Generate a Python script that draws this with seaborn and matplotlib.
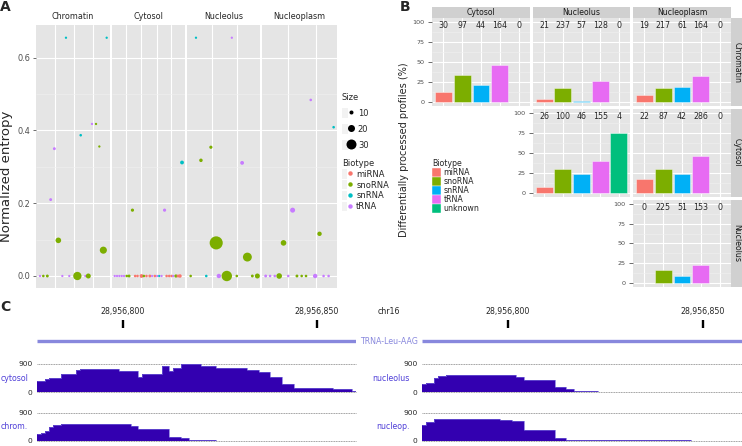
import numpy as np
import pandas as pd
import seaborn as sns
import matplotlib.pyplot as plt
from matplotlib.patches import Rectangle, Patch
from matplotlib.lines import Line2D
from matplotlib.legend_handler import HandlerTuple

# ---------------- Datos panel A (entropía normalizada por compartimento) ----------------
chromatin_x = [0.54, 0.99, 1.53, 3.56, 4.5, 5.59, 6.67, 7.07,
               4.05, 9.55, 2.48, 1.98, 3.02, 6.04, 7.57, 8.11, 8.56, 9.10]
chromatin_entropia = [0, 0, 0, 0, 0, 0, 0, 0,
                      0.655, 0.655, 0.350, 0.210, 0.098, 0.387, 0.418, 0.418, 0.356, 0.071]
chromatin_size = [3, 4, 5, 3, 3, 23, 3, 12,
                  3, 3, 5, 5, 14, 4, 3, 3, 3, 19]
chromatin_biotype = ["tRNA", "snoRNA", "snoRNA", "tRNA", "tRNA", "snoRNA", "tRNA", "snoRNA",
                     "snRNA", "snRNA", "tRNA", "tRNA", "snoRNA", "snRNA", "tRNA", "snoRNA", "snoRNA", "snoRNA"]

cytosol_x = [2.80, 7.20, 9.59,
             0.37, 0.69, 1.01, 1.33, 1.65, 2.02, 2.34, 3.17, 3.49, 4.04, 4.36, 4.72, 5.18,
             5.5, 5.87, 6.19, 6.47, 6.79, 7.48, 7.84, 8.17, 8.39, 8.76, 9.04, 9.31]
cytosol_entropia = [0.181, 0.181, 0.312] + [0] * 25
cytosol_size = [6, 6, 8,
                3, 3, 3, 3, 3, 4, 5, 4, 4, 8, 4, 4, 5,
                3, 4, 3, 3, 3, 4, 4, 4, 3, 6, 5, 7]
cytosol_biotype = ["snoRNA", "tRNA", "snRNA",
                   "tRNA", "tRNA", "tRNA", "tRNA", "tRNA", "snoRNA", "snoRNA", "miRNA", "miRNA",
                   "miRNA", "snoRNA", "miRNA", "miRNA", "tRNA", "miRNA", "tRNA", "snRNA", "tRNA",
                   "miRNA", "miRNA", "miRNA", "tRNA", "snoRNA", "miRNA", "miRNA"]

nucleolus_x = [1.23, 6.14, 3.27, 1.91, 7.55, 4.0, 8.27,
               0.5, 2.64, 4.36, 5.45, 6.82, 8.95, 9.64]
nucleolus_entropia = [0.655, 0.655, 0.354, 0.318, 0.311, 0.091, 0.052,
                      0, 0, 0, 0, 0, 0, 0]
nucleolus_size = [3, 3, 6, 7, 8, 39, 25,
                  4, 4, 10, 30, 4, 5, 12]
nucleolus_biotype = ["snRNA", "tRNA", "snoRNA", "snoRNA", "tRNA", "snoRNA", "snoRNA",
                     "snoRNA", "snRNA", "tRNA", "snoRNA", "snoRNA", "snoRNA", "snoRNA"]

nucleoplasm_x = [6.50, 9.55, 4.08, 2.87, 7.67,
                 0.49, 1.08, 1.70, 2.29, 3.50, 4.66, 5.29, 5.87, 7.09, 8.21, 8.88]
nucleoplasm_entropia = [0.484, 0.409, 0.181, 0.091, 0.116] + [0] * 11
nucleoplasm_size = [4, 4, 12, 14, 10,
                    5, 4, 4, 14, 4, 5, 4, 4, 10, 4, 4]
nucleoplasm_biotype = ["tRNA", "snRNA", "tRNA", "snoRNA", "snoRNA",
                       "tRNA", "tRNA", "tRNA", "snoRNA", "tRNA", "snoRNA", "snoRNA", "snoRNA",
                       "tRNA", "tRNA", "tRNA"]

# Líneas verticales de la rejilla en cada faceta (escala x libre)
rejilla_x = {"Chromatin": [2.57, 5.14, 7.66], "Cytosol": [1.97, 4.04, 6.1, 8.03],
             "Nucleolus": [3.41, 6.9], "Nucleoplasm": [3.5, 7.22]}

# ---------------- Datos panel B (perfiles diferencialmente procesados) ----------------
biotipos_b = ["miRNA", "snoRNA", "snRNA", "tRNA", "unknown"]
pct_chromatin_cytosol = [12.5, 34.2, 21.7, 46.7, 0]
pct_chromatin_nucleolus = [3.4, 17.5, 1.8, 26.3, 0]
pct_chromatin_nucleoplasm = [9.2, 17.5, 18.4, 32.1, 0]
pct_cytosol_nucleolus = [7.1, 29.6, 23.3, 39.2, 75]
pct_cytosol_nucleoplasm = [17.5, 30.4, 23.3, 46.3, 0]
pct_nucleolus_nucleoplasm = [0, 16.7, 9.2, 22.9, 0]
n_chromatin_cytosol = [30, 97, 44, 164, 0]
n_chromatin_nucleolus = [21, 237, 57, 128, 0]
n_chromatin_nucleoplasm = [19, 217, 61, 164, 0]
n_cytosol_nucleolus = [26, 100, 46, 155, 4]
n_cytosol_nucleoplasm = [22, 87, 42, 286, 0]
n_nucleolus_nucleoplasm = [0, 225, 51, 153, 0]

# ---------------- Datos panel C (cobertura sobre TRNA-Leu-AAG, chr16) ----------------
inicio_ventana = 28956778
fin_ventana = 28956860
marcas_c = [28956800, 28956850]
gen_inicio = 28956778
gen_fin = 28956860
bordes_cytosol = [0, 2, 3, 6, 10, 11, 21, 26, 27, 32, 34, 35, 37, 42, 46, 54, 57, 60, 63, 66, 76, 81, 82]
cob_cytosol = [360, 424, 466, 572, 709, 741, 678, 498, 582, 826, 688, 784, 900, 837, 774, 710, 657, 477,
               254, 148, 95, 42]
bordes_chrom = [0, 1, 2, 3, 4, 6, 24, 26, 34, 37, 39, 46]
cob_chrom = [212, 254, 307, 445, 498, 530, 477, 371, 127, 95, 21]
bordes_nucleolus = [0, 1, 3, 4, 6, 24, 26, 34, 37, 39, 45]
cob_nucleolus = [254, 307, 466, 519, 551, 477, 392, 180, 106, 42]
bordes_nucleop = [0, 1, 3, 20, 23, 26, 34, 37, 69]
cob_nucleop = [487, 593, 688, 667, 614, 349, 85, 25]

W, H = 742, 446


def caja(izq, arriba, der, abajo):
    # Convertimos una caja en píxeles a coordenadas de figura
    return [izq / W, 1 - abajo / H, (der - izq) / W, (abajo - arriba) / H]


def area_punto(v):
    # El diámetro crece linealmente con el tamaño (como en la leyenda)
    return (0.72 * (0.3 * v + 1.4)) ** 2


sns.set_style("darkgrid", {"axes.facecolor": "#E5E5E5", "grid.color": "white"})
plt.rcParams["font.family"] = ["DejaVu Sans"]

fig = plt.figure(figsize=(7.42, 4.46), dpi=100)

# ======================= Panel A =======================
colores_a = {"miRNA": "#F8766D", "snoRNA": "#7CAE00", "snRNA": "#00BFC4", "tRNA": "#C77CFF"}
datos_a = {
    "Chromatin": (chromatin_x, chromatin_entropia, chromatin_size, chromatin_biotype),
    "Cytosol": (cytosol_x, cytosol_entropia, cytosol_size, cytosol_biotype),
    "Nucleolus": (nucleolus_x, nucleolus_entropia, nucleolus_size, nucleolus_biotype),
    "Nucleoplasm": (nucleoplasm_x, nucleoplasm_entropia, nucleoplasm_size, nucleoplasm_biotype),
}
paneles_a = [(36, 110), (112, 185), (187, 260), (262, 337)]

for i, (comp, (xs, ent, tam, bio)) in enumerate(datos_a.items()):
    ax = fig.add_axes(caja(paneles_a[i][0], 25, paneles_a[i][1], 288))
    df = pd.DataFrame({"x": xs, "entropia": ent, "size": tam, "biotype": bio})
    tamanos = {v: area_punto(v) for v in df["size"].unique()}
    sns.scatterplot(data=df, x="x", y="entropia", hue="biotype", palette=colores_a,
                    size="size", sizes=tamanos, linewidth=0, legend=False, ax=ax, zorder=3)
    ax.set_xlim(0, 10)
    ax.set_ylim(-0.033, 0.69)
    ax.set_xticks(rejilla_x[comp])
    ax.set_xticklabels([])
    ax.set_yticks([0, 0.2, 0.4, 0.6])
    ax.set_yticks([0.1, 0.3, 0.5], minor=True)
    ax.grid(True, which="major", color="white", lw=0.8)
    ax.grid(True, which="minor", axis="y", color="#F0F0F0", lw=0.4)
    ax.tick_params(axis="x", length=0)
    ax.tick_params(axis="y", which="minor", length=0)
    if i == 0:
        ax.set_yticklabels(["0.0", "0.2", "0.4", "0.6"])
        ax.tick_params(axis="y", which="major", length=2, width=0.5, color="#333333",
                       labelsize=5.9, labelcolor="#4D4D4D", pad=1.8, left=True)
    else:
        ax.set_yticklabels([])
        ax.tick_params(axis="y", length=0)
    for s in ax.spines.values():
        s.set_visible(False)
    ax.set_xlabel("")
    ax.set_ylabel("")
    ax.set_title(comp, fontsize=5.8, pad=4.5)

fig.text(7 / W, 1 - 176 / H, "Normalized entropy", rotation=90, fontsize=9.5,
         ha="center", va="center")

# Leyendas del panel A
mano_tuple = {tuple: HandlerTuple(ndivide=None)}
h_size = [(Patch(fc="#F2F2F2", ec="none"),
           Line2D([], [], marker="o", ls="", color="black", mew=0, markersize=0.72 * (0.3 * v + 1)))
          for v in [10, 20, 30]]
fig.legend(h_size, ["10", "20", "30"], title="Size", handler_map=mano_tuple,
           loc="upper left", bbox_to_anchor=(342 / W, 1 - 93 / H), frameon=False,
           fontsize=6, title_fontsize=6, handlelength=1.5, handleheight=1.55,
           labelspacing=0.67, handletextpad=0.4, borderpad=0, borderaxespad=0, alignment="left")
h_bio = [(Patch(fc="#F2F2F2", ec="none"),
          Line2D([], [], marker="o", ls="", color=c, mew=0, markersize=3.2))
         for c in colores_a.values()]
fig.legend(h_bio, list(colores_a.keys()), title="Biotype", handler_map=mano_tuple,
           loc="upper left", bbox_to_anchor=(342 / W, 1 - 159 / H), frameon=False,
           fontsize=6, title_fontsize=6, handlelength=1.3, handleheight=1.3,
           labelspacing=0.18, handletextpad=0.4, borderpad=0, borderaxespad=0, alignment="left")

# ======================= Panel B =======================
colores_b = ["#F8766D", "#7CAE00", "#00B0F6", "#E76BF3", "#00BF7D"]
col_x = {"Cytosol": (432, 530), "Nucleolus": (533, 630), "Nucleoplasm": (633, 731)}
fila_y = {"Chromatin": (18, 106), "Cytosol": (108.5, 197), "Nucleolus": (200, 287)}
pares = [
    ("Chromatin", "Cytosol", pct_chromatin_cytosol, n_chromatin_cytosol),
    ("Chromatin", "Nucleolus", pct_chromatin_nucleolus, n_chromatin_nucleolus),
    ("Chromatin", "Nucleoplasm", pct_chromatin_nucleoplasm, n_chromatin_nucleoplasm),
    ("Cytosol", "Nucleolus", pct_cytosol_nucleolus, n_cytosol_nucleolus),
    ("Cytosol", "Nucleoplasm", pct_cytosol_nucleoplasm, n_cytosol_nucleoplasm),
    ("Nucleolus", "Nucleoplasm", pct_nucleolus_nucleoplasm, n_nucleolus_nucleoplasm),
]
primera_col = {"Chromatin": "Cytosol", "Cytosol": "Nucleolus", "Nucleolus": "Nucleoplasm"}
ultima_fila = {"Cytosol": "Chromatin", "Nucleolus": "Cytosol", "Nucleoplasm": "Nucleolus"}

for fila, col, pct, cuentas in pares:
    (x0, x1), (y0, y1) = col_x[col], fila_y[fila]
    ax = fig.add_axes(caja(x0, y0, x1, y1))
    sns.barplot(x=biotipos_b, y=pct, hue=biotipos_b, palette=colores_b, saturation=1,
                width=0.9, legend=False, ax=ax, edgecolor=(1, 1, 1, 0.45), linewidth=0.6, zorder=3)
    for j, n in enumerate(cuentas):
        ax.text(j, 95.5, str(n), ha="center", va="center", fontsize=5.7, zorder=4)
    ax.set_xlim(-0.6, 4.6)
    ax.set_ylim(-5, 105)
    ax.set_yticks([0, 25, 50, 75, 100])
    ax.set_yticks([12.5, 37.5, 62.5, 87.5], minor=True)
    ax.grid(True, which="major", color="white", lw=0.8)
    ax.grid(True, which="minor", axis="y", color="#F0F0F0", lw=0.4)
    ax.set_xticks(range(5))
    ax.set_xticklabels([])
    ax.tick_params(axis="x", length=2 if ultima_fila[col] == fila else 0,
                   width=0.5, color="#333333")
    ax.tick_params(axis="y", which="minor", length=0)
    if col == primera_col[fila]:
        ax.set_yticklabels(["0", "25", "50", "75", "100"])
        ax.tick_params(axis="y", which="major", length=3, width=0.5, color="#333333",
                       labelsize=4.6, labelcolor="#4D4D4D", pad=2.2, left=True)
    else:
        ax.set_yticklabels([])
        ax.tick_params(axis="y", length=0)
    for s in ax.spines.values():
        s.set_visible(False)
    ax.set_xlabel("")
    ax.set_ylabel("")
    # Tira superior con el nombre de la columna
    if fila == "Chromatin":
        alto = 11 / (y1 - y0)
        ax.add_patch(Rectangle((0, 1), 1, alto, transform=ax.transAxes, clip_on=False,
                               fc="#D0D0D0", ec="none"))
        ax.text(0.5, 1 + alto / 2, col, transform=ax.transAxes, ha="center", va="center",
                fontsize=5.6, color="#1A1A1A")
    # Tira lateral con el nombre de la fila
    if col == "Nucleoplasm":
        ancho = 10.5 / (x1 - x0)
        ax.add_patch(Rectangle((1.005, 0), ancho, 1, transform=ax.transAxes, clip_on=False,
                               fc="#D0D0D0", ec="none"))
        ax.text(1.005 + ancho / 2, 0.5, fila, transform=ax.transAxes, ha="center", va="center",
                rotation=270, fontsize=5.6, color="#1A1A1A")

fig.text(404 / W, 1 - 150 / H, "Differentially processed profiles (%)", rotation=90,
         fontsize=7, ha="center", va="center")

h_b = [Patch(fc=c, ec="white", lw=0.3) for c in colores_b]
fig.legend(h_b, biotipos_b, title="Biotype", loc="upper left",
           bbox_to_anchor=(432 / W, 1 - 159 / H), frameon=False, fontsize=5.7, title_fontsize=5.7,
           handlelength=1.14, handleheight=1.27, labelspacing=0, handletextpad=0.3,
           borderpad=0, borderaxespad=0, alignment="left")

# ======================= Panel C =======================
relleno = "#3300B0"
color_etiqueta = "#5040D8"
mitades = [(37.3, 356), (422.3, 741.7)]
pistas = [
    (0, (364, 392.3), "cytosol", bordes_cytosol, cob_cytosol),
    (0, (412.5, 440.8), "chrom.", bordes_chrom, cob_chrom),
    (1, (364, 392.3), "nucleolus", bordes_nucleolus, cob_nucleolus),
    (1, (412.5, 440.8), "nucleop.", bordes_nucleop, cob_nucleop),
]

# Regla superior con posiciones genómicas y el gen
for izq, der in mitades:
    ax = fig.add_axes(caja(izq, 328, der, 354))
    ax.set_xlim(inicio_ventana, fin_ventana)
    ax.set_ylim(0, 1)
    ax.hlines(0.5, gen_inicio, gen_fin, color="#8888DD", lw=2.4)
    ax.xaxis.tick_top()
    ax.set_xticks(marcas_c)
    ax.set_xticklabels([f"{m:,}" for m in marcas_c])
    ax.tick_params(axis="x", direction="out", length=5.8, width=1.7, color="black",
                   labelsize=5.7, pad=2.5)
    ax.set_yticks([])
    ax.grid(False)
    ax.set_facecolor("none")
    for s in ax.spines.values():
        s.set_visible(False)

fig.text(389 / W, 1 - 311.7 / H, "chr16", fontsize=5.7, ha="center", va="center")
fig.text(389 / W, 1 - 341 / H, "TRNA-Leu-AAG", fontsize=5.7, ha="center", va="center",
         color="#8888DD")

for mitad, (ya, yb), nombre, bordes, cob in pistas:
    izq, der = mitades[mitad]
    ax = fig.add_axes(caja(izq, ya, der, yb))
    x = inicio_ventana + np.array(bordes)
    y = np.append(cob, 0)
    ax.axhline(0, ls=(0, (1.2, 0.8)), color="#888888", lw=0.6, clip_on=False, zorder=1)
    ax.axhline(900, ls=(0, (1.2, 0.8)), color="#888888", lw=0.6, clip_on=False, zorder=1)
    ax.fill_between(x, y, step="post", color=relleno, lw=0, zorder=2)
    ax.step(x, y, where="post", color="#7060D8", lw=0.5, zorder=3)
    ax.set_xlim(inicio_ventana, fin_ventana)
    ax.set_ylim(0, 900)
    ax.set_xticks([])
    ax.set_yticks([0, 900])
    ax.set_yticklabels(["0", "900"])
    ax.tick_params(axis="y", length=0, labelsize=5.4, pad=3.5)
    ax.grid(False)
    ax.set_facecolor("none")
    for s in ax.spines.values():
        s.set_visible(False)
    desplaza = (9 if mitad == 0 else 12.3) / (der - izq)
    ax.text(-desplaza, 0.5, nombre, transform=ax.transAxes, ha="right", va="center",
            fontsize=5.7, color=color_etiqueta)

# Letras de los paneles
fig.text(0, 1, "A", fontsize=10, fontweight="bold", ha="left", va="top")
fig.text(400 / W, 1, "B", fontsize=10, fontweight="bold", ha="left", va="top")
fig.text(0, 1 - 300 / H, "C", fontsize=10, fontweight="bold", ha="left", va="top")

fig.savefig("out.png", dpi=100)
plt.close(fig)
